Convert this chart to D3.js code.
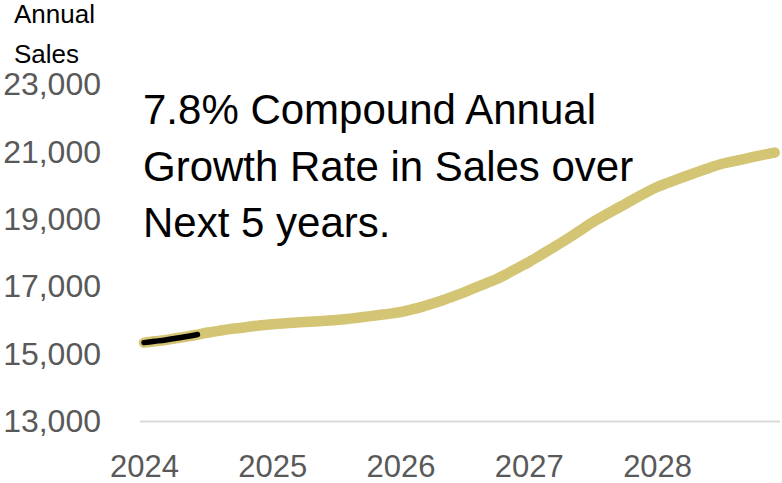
<!DOCTYPE html>
<html>
<head>
<meta charset="utf-8">
<script src="https://cdn.jsdelivr.net/npm/d3@7"></script>
<style>
  html, body { margin: 0; padding: 0; background: #ffffff; }
  svg { display: block; }
  .tick text { font-family: "Liberation Sans", Arial, sans-serif; }
</style>
</head>
<body>
<svg id="chart" width="782" height="483"></svg>
<script>
// Monthly sales, Jan 2024 – Dec 2028 (index 0 = Jan 2024)
const yearLabels = ["2024", "2025", "2026", "2027", "2028"];
const yearTickMonths = [0, 12, 24, 36, 48];
const yTicks = [13000, 15000, 17000, 19000, 21000, 23000];

const salesForecast = [
  15340, 15380, 15420, 15470, 15520, 15580, 15640, 15690, 15740, 15775, 15820, 15855,
  15885, 15910, 15930, 15950, 15970, 15990, 16010, 16040, 16080, 16120, 16160, 16200,
  16250, 16320, 16400, 16500, 16605, 16720, 16840, 16970, 17100, 17230, 17390, 17560,
  17730, 17920, 18110, 18300, 18500, 18710, 18920, 19100, 19280, 19450, 19630, 19800,
  19960, 20080, 20200, 20315, 20430, 20540, 20640, 20710, 20780, 20850, 20920, 20980
];
// Actuals to date (Jan – Jun 2024)
const salesActual = [15340, 15380, 15420, 15470, 15520, 15580];

const noteLines = [
  "7.8% Compound Annual",
  "Growth Rate in Sales over",
  "Next 5 years."
];
const titleLines = ["Annual", "Sales"];

const svg = d3.select("#chart");

const x = d3.scaleLinear().domain([0, 59]).range([144, 774.7]);
const y = d3.scaleLinear().domain([13000, 23000]).range([421.5, 84.5]);

// baseline at 13,000
svg.append("line")
  .attr("x1", 140).attr("x2", 780)
  .attr("y1", y(13000)).attr("y2", y(13000))
  .attr("stroke", "#d9d9d9").attr("stroke-width", 2);

// y axis labels
const yAxis = d3.axisLeft(y).tickValues(yTicks).tickFormat(d3.format(",")).tickSize(0).tickPadding(0);
const gy = svg.append("g").attr("transform", "translate(101,0)").call(yAxis);
gy.select(".domain").remove();
gy.selectAll("text").attr("font-size", 32).attr("fill", "#595959");

// x axis labels
const xAxis = d3.axisBottom(x).tickValues(yearTickMonths)
  .tickFormat((d, i) => yearLabels[i]).tickSize(0).tickPadding(33);
const gx = svg.append("g").attr("transform", `translate(0,${y(13000)})`).call(xAxis);
gx.select(".domain").remove();
gx.selectAll("text").attr("font-size", 31).attr("fill", "#595959");

const line = d3.line()
  .x((d, i) => x(i))
  .y(d => y(d))
  .curve(d3.curveMonotoneX);

svg.append("path")
  .datum(salesForecast)
  .attr("d", line)
  .attr("fill", "none")
  .attr("stroke", "#d3c573")
  .attr("stroke-width", 10.5)
  .attr("stroke-linecap", "round")
  .attr("stroke-linejoin", "round");

svg.append("path")
  .datum(salesActual)
  .attr("d", line)
  .attr("fill", "none")
  .attr("stroke", "#000000")
  .attr("stroke-width", 5.5)
  .attr("stroke-linecap", "round")
  .attr("stroke-linejoin", "round");

// axis title
svg.append("g").selectAll("text").data(titleLines).join("text")
  .attr("x", 14)
  .attr("y", (d, i) => 23 + i * 40)
  .attr("font-family", "Liberation Sans, Arial, sans-serif")
  .attr("font-size", 26)
  .attr("fill", "#000")
  .text(d => d);

// annotation
svg.append("g").selectAll("text").data(noteLines).join("text")
  .attr("x", 143)
  .attr("y", (d, i) => 124 + i * 56.5)
  .attr("font-family", "Liberation Sans, Arial, sans-serif")
  .attr("font-size", 42)
  .attr("fill", "#000")
  .text(d => d);
</script>
</body>
</html>
